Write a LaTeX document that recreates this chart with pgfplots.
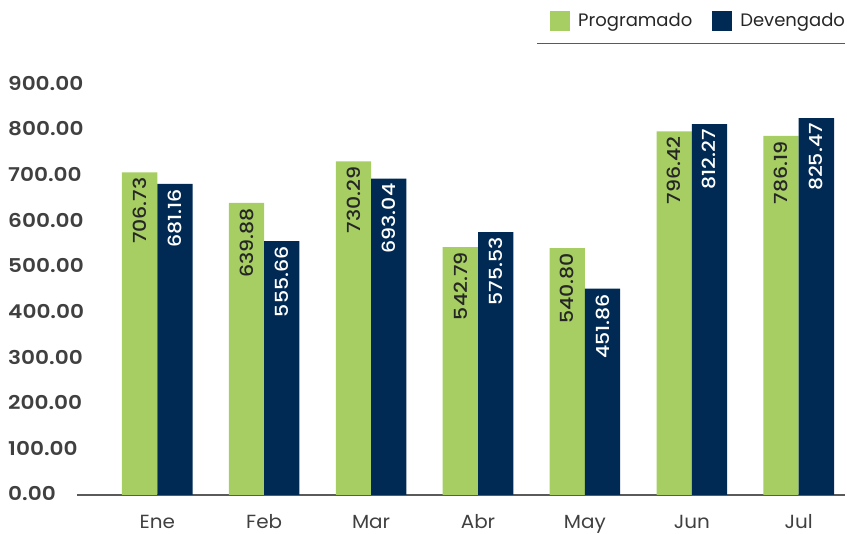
\documentclass[border=0pt]{standalone}
\usepackage{fontspec}
\setmainfont{Poppins}
\newfontfamily\tickfont{Poppins SemiBold}[FakeStretch=1.14]
\newfontfamily\lblfont{Poppins Medium}[FakeStretch=1.14]
\newfontfamily\catfont{Poppins}[FakeStretch=1.05]
\usepackage{pgfplots}
\pgfplotsset{compat=1.18}
\definecolor{prog}{RGB}{166,206,98}
\definecolor{dev}{RGB}{0,42,84}
\definecolor{txtgray}{RGB}{64,64,64}
\definecolor{lblgray}{RGB}{38,38,38}
\definecolor{linegray}{RGB}{90,90,90}
\begin{document}
\begin{tikzpicture}
\begin{axis}[
  at={(0pt,0pt)}, anchor=south west,
  scale only axis, width=768pt, height=411pt,
  ymin=0, ymax=900, xmin=-0.751, xmax=6.433,
  ytick={0,100,...,900},
  xtick={0,1,2,3,4,5,6},
  xticklabels={Ene,Feb,Mar,Abr,May,Jun,Jul},
  axis x line*=bottom, axis y line*=left,
  y axis line style={draw=none},
  x axis line style={draw=linegray, line width=1.1pt},
  major tick length=0pt,
  /pgf/number format/assume math mode=true,
  yticklabel={\pgfmathprintnumber[fixed,fixed zerofill,precision=2,1000 sep={}]{\tick}},
  yticklabel style={anchor=west, xshift=-69pt, yshift=1pt, inner sep=0pt, text=txtgray,
    font=\tickfont\fontsize{19}{19}\selectfont},
  xticklabel style={anchor=base, yshift=-34pt, inner sep=0pt, text depth=0pt, text=txtgray,
    font=\catfont\fontsize{19}{19}\selectfont},
  ybar, bar width=35.3pt,
  nodes near coords={\pgfmathprintnumber[fixed,fixed zerofill,precision=2,1000 sep={}]{\pgfplotspointmeta}},
  every node near coord/.append style={rotate=90, anchor=east, inner sep=5pt,
    font=\lblfont\fontsize{18}{18}\selectfont},
  clip=false,
  legend columns=2,
  legend image code/.code={\fill[#1] (0pt,-10pt) rectangle (20pt,10pt);},
  legend style={at={(1,1.1533)}, anchor=east, draw=none, fill=none,
    inner sep=0pt, outer sep=0pt, text=lblgray,
    font=\fontsize{18}{18}\selectfont,
    nodes={inner sep=0pt},
    /tikz/every odd column/.append style={column sep=8pt},
    /tikz/every even column/.append style={column sep=20pt}},
]
\addplot[fill=prog, draw=none, bar shift=-17.65pt,
  every node near coord/.append style={text=lblgray}]
  coordinates {(0,706.73) (1,639.88) (2,730.29) (3,542.79) (4,540.80) (5,796.42) (6,786.19)};
\addlegendentry{Programado}
\addplot[fill=dev, draw=none, bar shift=17.65pt,
  every node near coord/.append style={text=white}]
  coordinates {(0,681.16) (1,555.66) (2,693.04) (3,575.53) (4,451.86) (5,812.27) (6,825.47)};
\addlegendentry{Devengado}
\end{axis}
\draw[linegray, line width=1.1pt] (460pt,451.5pt) -- (768pt,451.5pt);
\pgfresetboundingbox
\path[use as bounding box] (-77pt,-39pt) rectangle (770pt,495pt);
\end{tikzpicture}
\end{document}
